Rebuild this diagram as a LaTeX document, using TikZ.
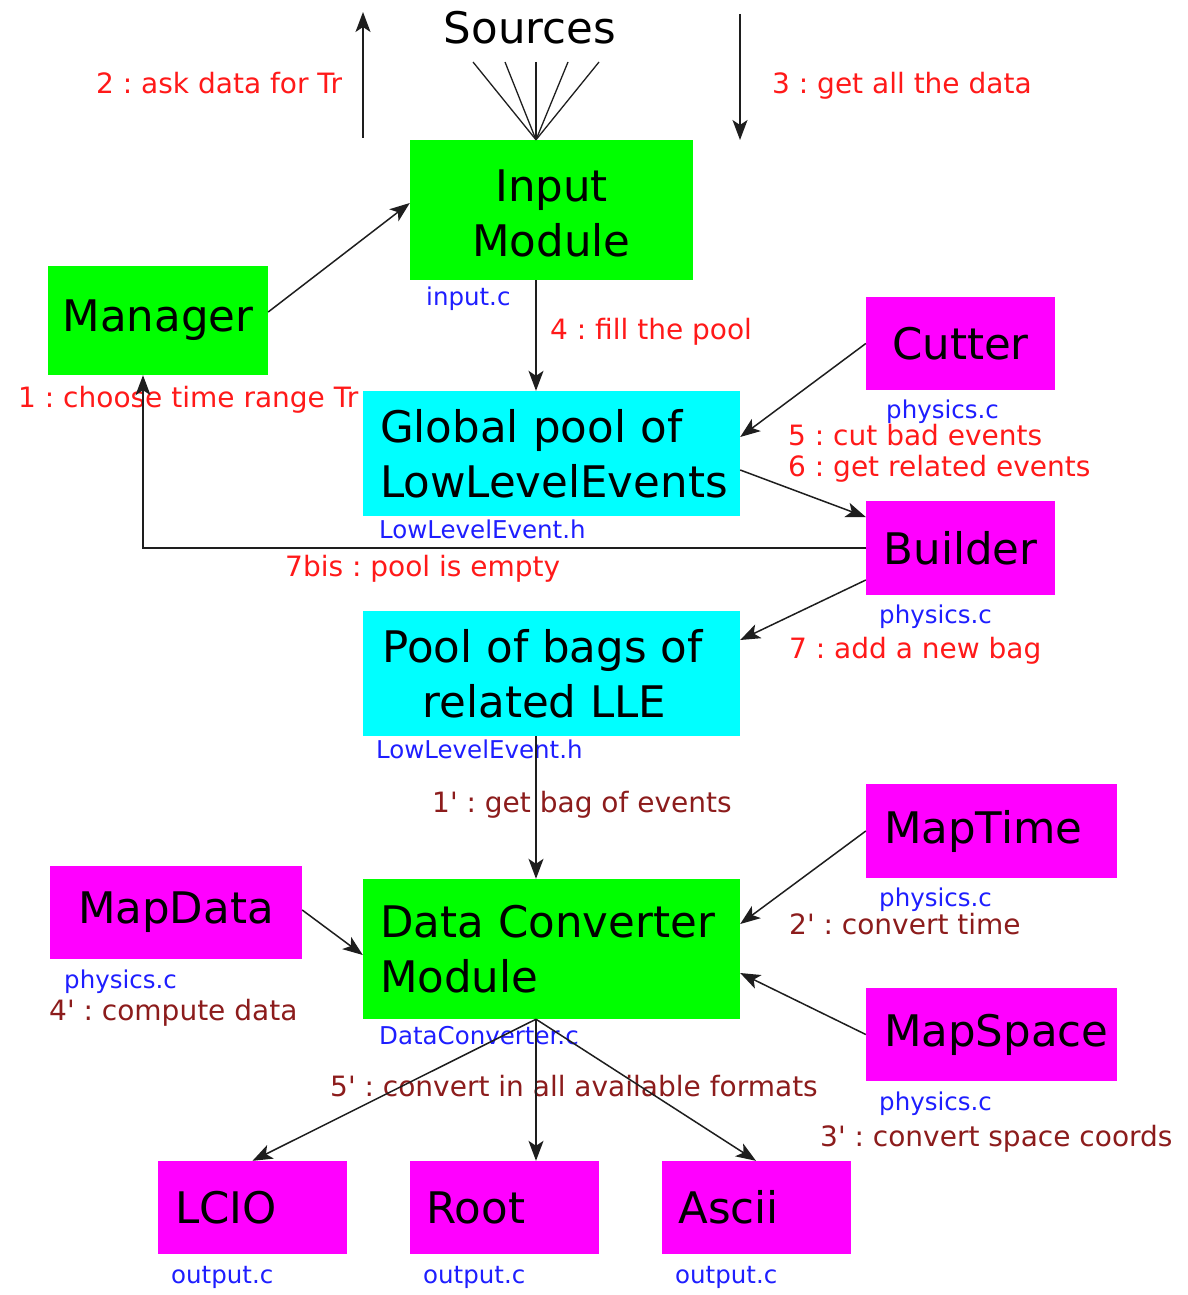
\documentclass[tikz,border=0pt]{standalone}
\usepackage{fontspec}
\setmainfont{DejaVu Sans}
\usetikzlibrary{arrows.meta,calc}
\definecolor{boxgreen}{RGB}{0,255,0}
\definecolor{boxmag}{RGB}{255,0,255}
\definecolor{boxcyan}{RGB}{0,255,255}
\definecolor{labred}{RGB}{255,25,25}
\definecolor{labblue}{RGB}{30,30,255}
\definecolor{labdark}{RGB}{140,28,28}
\definecolor{linegray}{RGB}{30,30,30}
\frenchspacing
\newcommand\boxfont{\fontsize{43.5}{55}\selectfont}
\newcommand\labfont{\fontsize{28}{33}\selectfont}
\newcommand\filefont{\fontsize{24.5}{29}\selectfont}
\newcommand\q{\textquotesingle}
\tikzset{
  box/.style={inner sep=0pt, font=\boxfont, text=black, draw=none},
  grn/.style={box, fill=boxgreen},
  mag/.style={box, fill=boxmag},
  cya/.style={box, fill=boxcyan},
  conn/.style={draw=linegray, line width=1.5pt, -{Stealth[length=20pt,width=15pt,inset=5pt]}},
  fanline/.style={draw=linegray, line width=1.3pt},
  redlab/.style={anchor=west, inner sep=0pt, text height=20.4pt, text depth=0pt, text=labred, font=\labfont},
  darklab/.style={anchor=west, inner sep=0pt, text height=20.4pt, text depth=0pt, text=labdark, font=\labfont},
  filelab/.style={anchor=west, inner sep=0pt, text height=17.9pt, text depth=0pt, text=labblue, font=\filefont},
}
\begin{document}
\begin{tikzpicture}[x=1pt,y=-1pt]
\useasboundingbox (0,0) rectangle (1187,1295);

% boxes
\node[grn, minimum width=283pt, minimum height=140pt, align=center] (inp) at (551.5,210) {\rule{0pt}{39pt}Input\\Module};
\node[grn, minimum width=220pt, minimum height=109pt] (man) at (158,320.5) {Manager};
\node[mag, minimum width=189pt, minimum height=93pt] (cut) at (960.5,343.5) {Cutter};
\node[cya, minimum width=377pt, minimum height=125pt, text width=343pt, inner xsep=17pt, align=left] (gp) at (551.5,453.5) {\mbox{Global pool of}\\\mbox{LowLevelEvents}};
\node[mag, minimum width=189pt, minimum height=94pt] (bld) at (960.5,548) {Builder};
\node[cya, minimum width=377pt, minimum height=125pt, align=center] (pb) at (551.5,673.5) {Pool of bags of\hspace*{18pt}\\related LLE\hspace*{14pt}};
\node[mag, minimum width=251pt, minimum height=94pt, text width=215pt, inner xsep=18pt, align=left] (mt) at (991.5,831) {MapTime};
\node[mag, minimum width=252pt, minimum height=93pt] (md) at (176,912.5) {MapData};
\node[grn, minimum width=377pt, minimum height=140pt, text width=343pt, inner xsep=17pt, align=left] (dc) at (551.5,949) {\mbox{Data Converter}\\Module};
\node[mag, minimum width=251pt, minimum height=93pt, text width=215pt, inner xsep=18pt, align=left] (ms) at (991.5,1034.5) {\mbox{MapSpace}};
\node[mag, minimum width=189pt, minimum height=93pt, text width=155pt, inner xsep=17pt, align=left] (lcio) at (252.5,1207.5) {LCIO};
\node[mag, minimum width=189pt, minimum height=93pt, text width=155pt, inner xsep=17pt, align=left] (root) at (504,1207.5) {Root};
\node[mag, minimum width=189pt, minimum height=93pt, text width=155pt, inner xsep=17pt, align=left] (ascii) at (756,1207.5) {Ascii};

\node[font=\boxfont, inner sep=0pt] (src) at (530,28) {Sources};

% red labels
\node[redlab] (t2) at (96,83) {2 : ask data for Tr};
\node[redlab] (t3) at (772,83) {3 : get all the data};
\node[redlab] (t4) at (550,329) {4 : fill the pool};
\node[redlab] (t1) at (18,397) {1 : choose time range Tr};
\node[redlab] (t5) at (788,435) {5 : cut bad events};
\node[redlab] (t6) at (788,466) {6 : get related events};
\node[redlab] (t7b) at (285,566) {7bis : pool is empty};
\node[redlab] (t7) at (789,648) {7 : add a new bag};

% dark red labels
\node[darklab] (p1) at (432,802) {1\q{} : get bag of events};
\node[darklab] (p2) at (789,924) {2\q{} : convert time};
\node[darklab] (p4) at (49,1010) {4\q{} : compute data};
\node[darklab] (p5) at (330,1086) {5\q{} : convert in all available formats};
\node[darklab] (p3) at (820,1136) {3\q{} : convert space coords};

% file labels
\node[filelab] (fin) at (426,297) {input.c};
\node[filelab] (fcut) at (886,410) {physics.c};
\node[filelab] (fgp) at (379,530) {LowLevelEvent.h};
\node[filelab] (fbld) at (879,615) {physics.c};
\node[filelab] (fpb) at (376,750) {LowLevelEvent.h};
\node[filelab] (fmt) at (879,898) {physics.c};
\node[filelab] (fmd) at (64,980) {physics.c};
\node[filelab] (fdc) at (379,1036) {DataConverter.c};
\node[filelab] (fms) at (879,1102) {physics.c};
\node[filelab] (fl) at (171,1275) {output.c};
\node[filelab] (fr) at (423,1275) {output.c};
\node[filelab] (fa) at (675,1275) {output.c};

% fan of sources
\coordinate (fanpt) at ([xshift=-15.5pt]inp.north);
\coordinate (f1) at (473,62);
\coordinate (f2) at (505,62);
\coordinate (f3) at (536,62);
\coordinate (f4) at (568,62);
\coordinate (f5) at (599,62);
\foreach \f in {f1,f2,f3,f4,f5} \draw[fanline] (\f) -- (fanpt);

% up / down arrows
\coordinate (ua) at (363,138);
\coordinate (ub) at (363,12);
\coordinate (da) at (740,14);
\coordinate (db) at (740,140);
\draw[conn] (ua) -- (ub);
\draw[conn] (da) -- (db);

% connectors
\draw[conn] ([yshift=8.5pt]man.east) -- ([yshift=7pt]inp.west);
\draw[conn] ([xshift=-15.5pt]inp.south) -- ([xshift=-15.5pt]gp.north);
\draw[conn] (cut.west) -- ([yshift=16.5pt]gp.east);
\draw[conn] ([yshift=-16.5pt]gp.east) -- ([yshift=31pt]bld.west);
\draw[conn] (bld.west) -| ([xshift=-15pt]man.south);
\draw[conn] ([yshift=-32pt]bld.west) -- ([yshift=33.5pt]pb.east);
\draw[conn] ([xshift=-15.5pt]pb.south) -- ([xshift=-15.5pt]dc.north);
\draw[conn] (mt.west) -- ([yshift=25pt]dc.east);
\draw[conn] ([yshift=2.5pt]md.east) -- ([yshift=-6pt]dc.west);
\draw[conn] (ms.west) -- ([yshift=-24pt]dc.east);
\draw[conn] ([xshift=-15.5pt]dc.south) -- (lcio.north);
\draw[conn] ([xshift=-15.5pt]dc.south) -- ([xshift=32pt]root.north);
\draw[conn] ([xshift=-15.5pt]dc.south) -- (ascii.north);
\end{tikzpicture}
\end{document}
